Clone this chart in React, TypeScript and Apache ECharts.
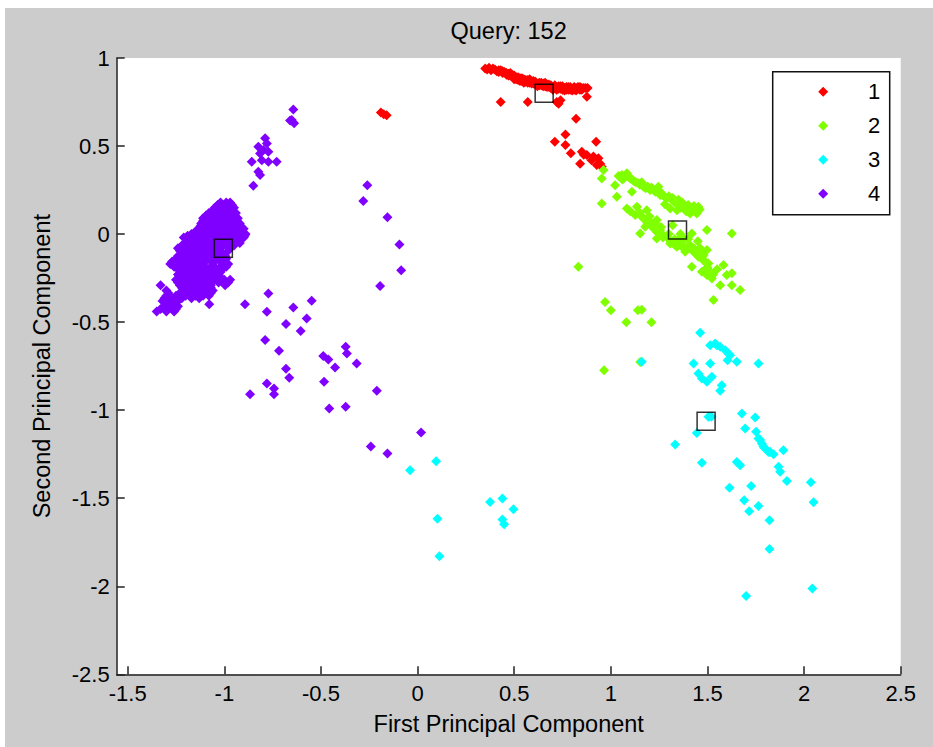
import React, { useEffect, useRef } from 'react';
import * as echarts from 'echarts';

const xTicks = [-1.5, -1, -0.5, 0, 0.5, 1, 1.5, 2, 2.5];
const groupNames = ['1', '2', '3', '4'];
const titleText = 'Query: 152';
const xName = 'First Principal Component';
const yName = 'Second Principal Component';

const group1 = [
  [0.35, 0.94], [0.37, 0.945], [0.38, 0.93], [0.40, 0.935], [0.41, 0.925], [0.42, 0.92], [0.43, 0.93], [0.44, 0.915],
  [0.45, 0.92], [0.46, 0.905], [0.47, 0.91], [0.48, 0.90], [0.48, 0.915], [0.49, 0.895], [0.50, 0.90], [0.50, 0.88],
  [0.51, 0.89], [0.52, 0.875], [0.53, 0.885], [0.54, 0.87], [0.55, 0.88], [0.55, 0.86], [0.56, 0.865], [0.57, 0.875],
  [0.58, 0.86], [0.58, 0.88], [0.59, 0.87], [0.60, 0.855], [0.61, 0.865], [0.62, 0.85], [0.62, 0.84], [0.63, 0.86],
  [0.64, 0.845], [0.65, 0.855], [0.66, 0.84], [0.66, 0.86], [0.67, 0.85], [0.68, 0.835], [0.69, 0.845], [0.70, 0.83],
  [0.70, 0.82], [0.71, 0.845], [0.72, 0.835], [0.73, 0.84], [0.74, 0.825], [0.75, 0.84], [0.75, 0.82], [0.76, 0.83],
  [0.77, 0.835], [0.78, 0.82], [0.79, 0.835], [0.80, 0.825], [0.80, 0.815], [0.81, 0.835], [0.82, 0.83], [0.83, 0.825],
  [0.84, 0.835], [0.85, 0.83], [0.86, 0.83],
  [0.36, 0.935], [0.39, 0.94], [0.42, 0.93], [0.44, 0.925], [0.46, 0.915], [0.47, 0.90], [0.49, 0.905], [0.51, 0.88],
  [0.52, 0.89], [0.53, 0.87], [0.54, 0.885], [0.56, 0.875], [0.57, 0.86], [0.59, 0.855], [0.60, 0.87], [0.61, 0.85],
  [0.63, 0.845], [0.64, 0.86], [0.65, 0.84], [0.67, 0.835], [0.68, 0.85], [0.69, 0.83], [0.71, 0.83], [0.72, 0.82],
  [0.73, 0.825], [0.74, 0.84], [0.76, 0.815], [0.77, 0.82], [0.78, 0.835], [0.79, 0.82], [0.81, 0.82], [0.82, 0.815],
  [0.83, 0.835], [0.84, 0.82], [0.85, 0.82], [0.87, 0.83], [0.88, 0.83],
  [0.43, 0.75], [0.57, 0.75], [0.72, 0.75], [0.74, 0.76], [0.73, 0.74], [0.876, 0.78], [0.82, 0.655], [0.765, 0.566],
  [0.71, 0.525], [0.765, 0.506], [0.924, 0.525], [0.793, 0.459], [0.85, 0.468], [0.876, 0.449], [0.91, 0.44],
  [0.936, 0.43], [0.841, 0.40], [0.927, 0.392], [0.953, 0.382], [0.90, 0.42], [0.945, 0.40], [0.86, 0.45],
  [-0.19, 0.69], [-0.175, 0.68], [-0.16, 0.675],
];

const group2 = [
  [0.962, 0.364], [0.953, 0.316], [1.022, 0.278], [0.953, 0.174], [1.031, 0.212], [1.109, 0.24], [1.057, 0.335],
  [1.083, 0.345], [1.10, 0.316], [1.07, 0.32], [1.12, 0.30], [1.143, 0.288], [1.169, 0.269], [1.19, 0.27], [1.203, 0.25],
  [1.22, 0.255], [1.246, 0.269], [1.255, 0.222], [1.27, 0.22], [1.29, 0.203], [1.31, 0.20], [1.324, 0.193], [1.34, 0.185],
  [1.359, 0.174], [1.375, 0.165], [1.393, 0.155], [1.41, 0.15], [1.428, 0.146], [1.453, 0.155], [1.445, 0.117],
  [1.41, 0.117], [1.307, 0.146], [1.342, 0.136], [1.28, 0.17], [1.083, 0.146], [1.135, 0.155], [1.186, 0.136],
  [1.126, 0.108], [1.169, 0.089], [1.203, 0.07], [1.238, 0.08], [1.178, 0.041], [1.221, 0.032], [1.255, 0.023],
  [1.152, 0.004], [1.238, -0.025], [1.29, -0.015], [1.307, -0.053], [1.342, -0.072], [1.376, -0.081], [1.41, -0.063],
  [1.419, 0.004], [1.385, -0.10], [1.428, -0.10], [1.462, -0.081], [1.497, -0.091], [1.497, 0.023], [1.626, 0.004],
  [1.453, -0.129], [1.479, -0.148], [1.505, -0.167], [1.419, -0.186], [1.471, -0.214], [1.497, -0.233], [1.523, -0.252],
  [1.583, -0.176], [1.60, -0.233], [1.626, -0.223], [1.566, -0.29], [1.626, -0.29], [1.669, -0.318], [1.531, -0.375],
  [0.832, -0.186], [0.97, -0.385], [1.0, -0.432], [1.14, -0.432], [1.16, -0.43], [1.21, -0.50], [1.08, -0.50],
  [1.152, -0.727], [0.965, -0.773], [1.32, 0.05], [1.36, 0.0], [1.33, -0.03], [1.27, -0.005], [1.20, 0.10],
  [1.45, -0.04], [1.48, -0.12], [1.55, -0.20],
  [1.04, 0.33], [1.06, 0.31], [1.09, 0.33], [1.11, 0.31], [1.13, 0.295], [1.15, 0.28], [1.16, 0.295], [1.18, 0.26],
  [1.21, 0.265], [1.23, 0.24], [1.25, 0.245], [1.26, 0.235], [1.28, 0.21], [1.30, 0.215], [1.32, 0.205], [1.33, 0.18],
  [1.35, 0.195], [1.37, 0.18], [1.38, 0.16], [1.40, 0.165], [1.42, 0.13], [1.43, 0.16], [1.44, 0.14], [1.46, 0.14],
  [1.39, 0.13], [1.36, 0.15],
  [1.10, 0.13], [1.15, 0.12], [1.16, 0.10], [1.19, 0.06], [1.21, 0.05], [1.23, 0.06], [1.24, 0.01], [1.26, 0.04],
  [1.27, -0.02], [1.30, 0.00], [1.31, -0.04], [1.33, -0.06], [1.35, -0.05], [1.37, -0.06], [1.39, -0.09], [1.40, -0.07],
  [1.43, -0.08], [1.44, -0.11], [1.46, -0.10], [1.47, -0.13], [1.49, -0.16], [1.50, -0.19], [1.51, -0.21], [1.49, -0.20],
  [1.53, -0.23], [1.36, -0.02], [1.38, -0.03], [1.40, -0.03],
];

const group3 = [
  [1.462, -0.561], [1.514, -0.631], [1.54, -0.621], [1.549, -0.631], [1.566, -0.64], [1.592, -0.659], [1.609, -0.678],
  [1.617, -0.688], [1.604, -0.716], [1.652, -0.725], [1.764, -0.735], [1.428, -0.735], [1.514, -0.735], [1.16, -0.725],
  [1.453, -0.792], [1.471, -0.82], [1.497, -0.839], [1.523, -0.81], [1.574, -0.858], [1.566, -0.89], [1.505, -1.038],
  [1.52, -1.038], [1.445, -1.129], [1.333, -1.195], [1.471, -1.299], [1.678, -1.019], [1.747, -1.042], [1.695, -1.104],
  [1.752, -1.123], [1.764, -1.161], [1.773, -1.17], [1.782, -1.19], [1.79, -1.208], [1.799, -1.218], [1.816, -1.237],
  [1.825, -1.237], [1.842, -1.25], [1.893, -1.227], [1.652, -1.294], [1.669, -1.313], [1.868, -1.322], [1.876, -1.35],
  [1.911, -1.402], [2.035, -1.409], [2.049, -1.523], [1.614, -1.441], [1.726, -1.43], [1.69, -1.511], [1.764, -1.544],
  [1.716, -1.574], [1.821, -1.625], [1.821, -1.788], [1.70, -2.055], [2.043, -2.013],
  [-0.039, -1.341], [0.096, -1.29], [0.103, -1.616], [0.113, -1.83], [0.375, -1.521], [0.439, -1.502], [0.496, -1.563],
  [0.439, -1.621], [0.448, -1.648],
];

const group4 = [
  [-0.643, 0.708], [-0.651, 0.648], [-0.639, 0.629], [-0.66, 0.645], [-0.789, 0.544], [-0.78, 0.515], [-0.824, 0.496],
  [-0.798, 0.477], [-0.772, 0.468], [-0.815, 0.458], [-0.858, 0.411], [-0.806, 0.42], [-0.772, 0.411], [-0.729, 0.411],
  [-0.824, 0.354], [-0.815, 0.335], [-0.85, 0.275],
  [-0.26, 0.277], [-0.281, 0.188], [-0.156, 0.095], [-0.094, -0.059], [-0.085, -0.205], [-0.194, -0.295],
  [-0.772, -0.337], [-0.893, -0.398], [-1.078, -0.398], [-0.996, -0.29], [-0.78, -0.441], [-0.643, -0.417],
  [-0.548, -0.379], [-0.574, -0.479], [-0.681, -0.511], [-0.605, -0.551], [-0.789, -0.602], [-0.717, -0.663],
  [-0.681, -0.765], [-0.664, -0.816], [-0.78, -0.848], [-0.743, -0.877], [-0.743, -0.909], [-0.867, -0.909],
  [-0.488, -0.693], [-0.462, -0.712], [-0.427, -0.758], [-0.372, -0.64], [-0.366, -0.678], [-0.315, -0.735],
  [-0.484, -0.839], [-0.457, -0.991], [-0.372, -0.981], [-0.211, -0.89], [0.018, -1.127], [-0.242, -1.207],
  [-0.156, -1.246],
  [-1.02, 0.18], [-0.99, 0.18], [-0.97, 0.18],
  [-1.05, 0.15], [-1.01, 0.15], [-0.98, 0.15], [-0.95, 0.15],
  [-1.08, 0.12], [-1.04, 0.12], [-1.00, 0.12], [-0.96, 0.12], [-0.94, 0.12],
  [-1.11, 0.09], [-1.07, 0.09], [-1.03, 0.09], [-0.99, 0.09], [-0.95, 0.09], [-0.93, 0.09],
  [-1.12, 0.06], [-1.08, 0.06], [-1.05, 0.06], [-1.01, 0.06], [-0.97, 0.06], [-0.92, 0.06],
  [-1.13, 0.03], [-1.09, 0.03], [-1.06, 0.03], [-1.02, 0.03], [-0.98, 0.03], [-0.94, 0.03], [-0.90, 0.03],
  [-1.17, 0.0], [-1.12, 0.0], [-1.08, 0.0], [-1.04, 0.0], [-1.00, 0.0], [-0.96, 0.0], [-0.92, 0.0], [-0.89, 0.0],
  [-1.21, -0.02], [-1.15, -0.02], [-1.10, -0.02], [-1.05, -0.02], [-0.98, -0.02], [-0.94, -0.02], [-0.90, -0.02],
  [-1.20, -0.05], [-1.16, -0.05], [-1.12, -0.05], [-1.07, -0.05], [-1.03, -0.05], [-0.95, -0.05], [-0.92, -0.05],
  [-1.24, -0.08], [-1.19, -0.08], [-1.14, -0.08], [-1.10, -0.08], [-1.06, -0.08], [-1.02, -0.08], [-0.97, -0.08],
  [-1.22, -0.11], [-1.18, -0.11], [-1.13, -0.11], [-1.09, -0.11], [-1.05, -0.11], [-1.01, -0.11],
  [-1.25, -0.14], [-1.21, -0.14], [-1.16, -0.14], [-1.12, -0.14], [-1.08, -0.14], [-1.03, -0.14], [-0.99, -0.14],
  [-1.28, -0.17], [-1.23, -0.17], [-1.19, -0.17], [-1.15, -0.17], [-1.11, -0.17], [-1.06, -0.17], [-1.01, -0.17], [-0.98, -0.17],
  [-1.24, -0.20], [-1.20, -0.20], [-1.16, -0.20], [-1.12, -0.20], [-1.08, -0.20], [-1.04, -0.20], [-1.01, -0.20],
  [-1.24, -0.23], [-1.19, -0.23], [-1.15, -0.23], [-1.11, -0.23], [-1.07, -0.23], [-1.03, -0.23],
  [-1.25, -0.26], [-1.21, -0.26], [-1.17, -0.26], [-1.13, -0.26], [-1.09, -0.26], [-1.05, -0.26], [-1.00, -0.26], [-0.97, -0.26],
  [-1.33, -0.29], [-1.23, -0.29], [-1.19, -0.29], [-1.15, -0.29], [-1.11, -0.29], [-1.07, -0.29],
  [-1.30, -0.32], [-1.21, -0.32], [-1.17, -0.32], [-1.13, -0.32], [-1.09, -0.32], [-1.06, -0.32],
  [-1.30, -0.35], [-1.25, -0.35], [-1.20, -0.35], [-1.15, -0.35], [-1.11, -0.35], [-1.08, -0.35],
  [-1.32, -0.38], [-1.28, -0.38], [-1.24, -0.38],
  [-1.31, -0.41], [-1.27, -0.41], [-1.24, -0.41],
  [-1.35, -0.44], [-1.30, -0.44], [-1.26, -0.44],
  [-1.035, 0.165], [-1.00, 0.165], [-0.96, 0.165],
  [-1.06, 0.135], [-1.02, 0.135], [-0.99, 0.135], [-0.965, 0.135],
  [-1.095, 0.105], [-1.06, 0.105], [-1.02, 0.105], [-0.98, 0.105], [-0.945, 0.105],
  [-1.11, 0.075], [-1.09, 0.075], [-1.05, 0.075], [-1.01, 0.075], [-0.97, 0.075], [-0.935, 0.075],
  [-1.125, 0.045], [-1.10, 0.045], [-1.07, 0.045], [-1.03, 0.045], [-0.99, 0.045], [-0.95, 0.045], [-0.915, 0.045],
  [-1.15, 0.015], [-1.11, 0.015], [-1.07, 0.015], [-1.03, 0.015], [-0.99, 0.015], [-0.95, 0.015], [-0.91, 0.015],
  [-1.19, -0.01], [-1.13, -0.01], [-1.09, -0.01], [-1.06, -0.01], [-1.02, -0.01], [-0.97, -0.01], [-0.93, -0.01], [-0.895, -0.01],
  [-1.18, -0.035], [-1.14, -0.035], [-1.09, -0.035], [-1.05, -0.035], [-1.01, -0.035], [-0.97, -0.035], [-0.93, -0.035],
  [-1.22, -0.065], [-1.17, -0.065], [-1.13, -0.065], [-1.08, -0.065], [-1.04, -0.065], [-0.99, -0.065], [-0.95, -0.065],
  [-1.23, -0.095], [-1.20, -0.095], [-1.15, -0.095], [-1.11, -0.095], [-1.07, -0.095], [-1.03, -0.095], [-0.98, -0.095],
  [-1.24, -0.125], [-1.20, -0.125], [-1.15, -0.125], [-1.11, -0.125], [-1.07, -0.125], [-1.03, -0.125], [-0.995, -0.125],
  [-1.27, -0.155], [-1.22, -0.155], [-1.18, -0.155], [-1.14, -0.155], [-1.10, -0.155], [-1.05, -0.155], [-1.01, -0.155],
  [-1.26, -0.185], [-1.22, -0.185], [-1.18, -0.185], [-1.14, -0.185], [-1.10, -0.185], [-1.06, -0.185], [-1.02, -0.185], [-0.99, -0.185],
  [-1.22, -0.215], [-1.18, -0.215], [-1.14, -0.215], [-1.10, -0.215], [-1.06, -0.215], [-1.02, -0.215],
  [-1.23, -0.245], [-1.17, -0.245], [-1.13, -0.245], [-1.09, -0.245], [-1.05, -0.245], [-1.02, -0.245],
  [-1.24, -0.275], [-1.19, -0.275], [-1.15, -0.275], [-1.11, -0.275], [-1.07, -0.275], [-1.03, -0.275], [-0.98, -0.275],
  [-1.22, -0.305], [-1.18, -0.305], [-1.14, -0.305], [-1.10, -0.305], [-1.07, -0.305],
  [-1.29, -0.335], [-1.23, -0.335], [-1.19, -0.335], [-1.15, -0.335], [-1.11, -0.335], [-1.07, -0.335],
  [-1.31, -0.365], [-1.27, -0.365], [-1.22, -0.365], [-1.17, -0.365], [-1.13, -0.365],
  [-1.30, -0.395], [-1.26, -0.395],
  [-1.33, -0.425], [-1.29, -0.425], [-1.25, -0.425],
];

const centroids = [
  [0.655, 0.80],
  [1.345, 0.023],
  [1.493, -1.063],
  [-1.005, -0.081],
];

const groups = [group1, group2, group3, group4];
const colors = ['#ff0000', '#80ff00', '#00ffff', '#8000ff'];
const FONT = '"Liberation Sans", Arial, Helvetica, sans-serif';

export default function App() {
  const ref = useRef<HTMLDivElement>(null);
  useEffect(() => {
    const chart = echarts.init(ref.current as HTMLDivElement, null, { renderer: 'svg' });
    const axisLineStyle = { color: '#222', width: 1.5 };
    const option: any = {
      animation: false,
      backgroundColor: '#cccccc',
      textStyle: { fontFamily: FONT },
      title: {
        text: titleText,
        left: 445.5,
        top: 11,
        padding: 0,
        textStyle: { fontSize: 23.5, fontWeight: 'normal', color: '#000', fontFamily: FONT },
      },
      legend: {
        orient: 'vertical',
        left: 767.7,
        top: 63.7,
        padding: [9, 9.5, 10, 45.5],
        itemGap: 12,
        itemWidth: 10,
        itemHeight: 10,
        icon: 'diamond',
        backgroundColor: '#ffffff',
        borderColor: '#111',
        borderWidth: 1.5,
        borderRadius: 0,
        selectedMode: false,
        data: groupNames,
        formatter: '{a|{name}}',
        textStyle: {
          color: '#000',
          fontSize: 22,
          fontFamily: FONT,
          rich: { a: { width: 47, align: 'right', fontSize: 22, lineHeight: 22, color: '#000', fontFamily: FONT } },
        },
      },
      grid: {
        left: 111.7,
        top: 50,
        width: 784,
        height: 616.3,
        show: true,
        backgroundColor: '#ffffff',
        borderWidth: 0,
        containLabel: false,
        outerBoundsMode: 'none',
      },
      xAxis: {
        type: 'value',
        min: -1.557,
        max: 2.5,
        name: xName,
        nameLocation: 'middle',
        nameGap: 38,
        nameTextStyle: { fontSize: 23.5, color: '#000', fontFamily: FONT },
        axisLine: { show: true, onZero: false, lineStyle: axisLineStyle },
        axisTick: { show: true, inside: true, length: 8, customValues: xTicks, lineStyle: axisLineStyle },
        axisLabel: { customValues: xTicks, fontSize: 22, color: '#000', margin: 8, fontFamily: FONT },
        splitLine: { show: false },
      },
      yAxis: {
        type: 'value',
        min: -2.5,
        max: 1,
        interval: 0.5,
        name: yName,
        nameLocation: 'middle',
        nameGap: 63,
        nameTextStyle: { fontSize: 23.5, color: '#000', fontFamily: FONT },
        axisLine: { show: true, onZero: false, lineStyle: axisLineStyle },
        axisTick: { show: true, inside: true, length: 8, lineStyle: axisLineStyle },
        axisLabel: { fontSize: 22, color: '#000', margin: 7, fontFamily: FONT },
        splitLine: { show: false },
      },
      series: [
        ...groups.map((g, i) => ({
          name: groupNames[i],
          type: 'scatter',
          data: g,
          symbol: 'diamond',
          symbolSize: 10,
          itemStyle: { color: colors[i], opacity: 1 },
          emphasis: { disabled: true },
        })),
        {
          name: 'centroids',
          type: 'scatter',
          data: centroids,
          symbol: 'rect',
          symbolSize: 18,
          itemStyle: { color: 'rgba(0,0,0,0)', borderColor: '#000', borderWidth: 1.5 },
          emphasis: { disabled: true },
          z: 5,
        },
      ],
    };
    chart.setOption(option);
    return () => chart.dispose();
  }, []);
  return (
    <div style={{ position: 'absolute', left: 0, top: 0, width: 933, height: 747, background: '#ffffff' }}>
      <div ref={ref} style={{ position: 'absolute', left: 5, top: 8, width: 928, height: 739 }} />
    </div>
  );
}
